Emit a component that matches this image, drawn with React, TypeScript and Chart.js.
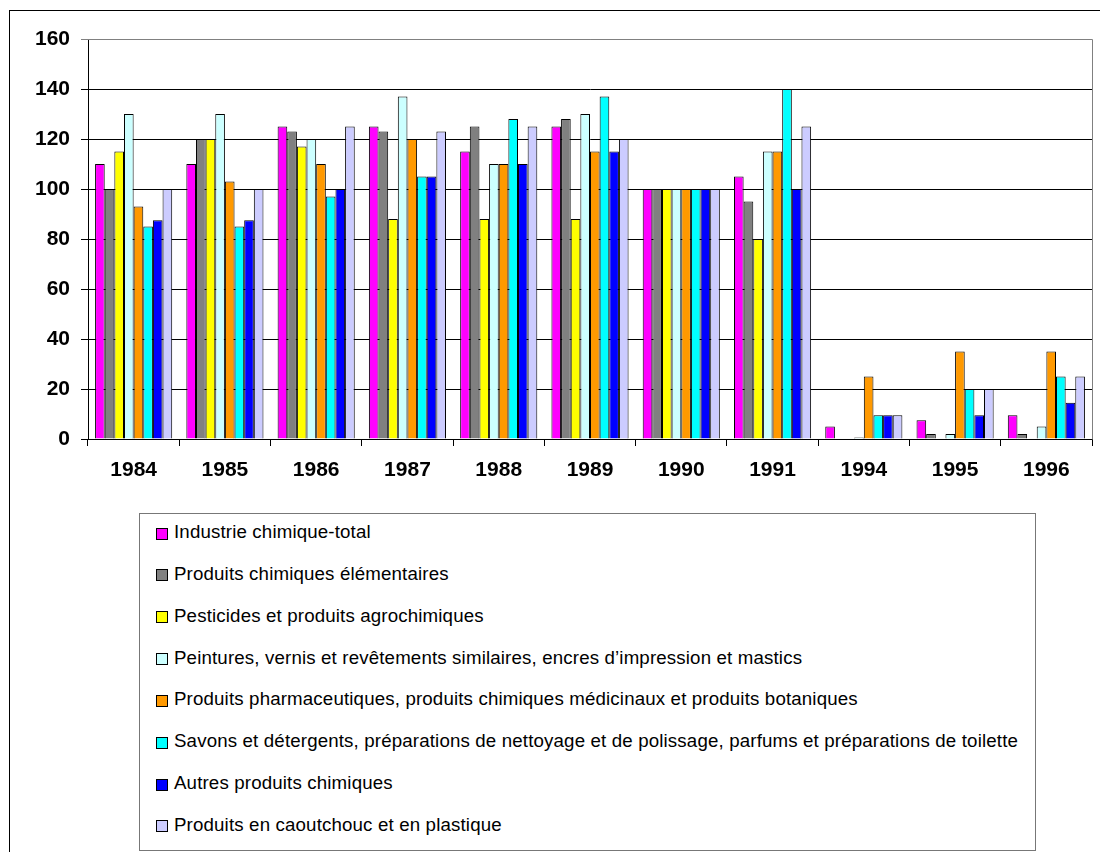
import React, { useEffect, useRef } from 'react';
import { Chart, registerables } from 'chart.js';

Chart.register(...registerables);

const categories = ['1984', '1985', '1986', '1987', '1988', '1989', '1990', '1991', '1994', '1995', '1996'];

const seriesNames = [
  'Industrie chimique-total',
  'Produits chimiques élémentaires',
  'Pesticides et produits agrochimiques',
  'Peintures, vernis et revêtements similaires, encres d’impression et mastics',
  'Produits pharmaceutiques, produits chimiques médicinaux et produits botaniques',
  'Savons et détergents, préparations de nettoyage et de polissage, parfums et préparations de toilette',
  'Autres produits chimiques',
  'Produits en caoutchouc et en plastique',
];

const seriesColors = ['#FF00FF', '#808080', '#FFFF00', '#CCFFFF', '#FF9900', '#00FFFF', '#0000FF', '#CCCCFF'];

const industrieTotal = [110, 110, 125, 125, 115, 125, 100, 105, 5, 7.5, 9.5];
const elementaires = [100, 120, 123, 123, 125, 128, 100, 95, null, 2, 2];
const pesticides = [115, 120, 117, 88, 88, 88, 100, 80, null, null, null];
const peintures = [130, 130, 120, 137, 110, 130, 100, 115, 0.6, 2, 5];
const pharmaceutiques = [93, 103, 110, 120, 110, 115, 100, 115, 25, 35, 35];
const savons = [85, 85, 97, 105, 128, 137, 100, 140, 9.5, 20, 25];
const autres = [87.5, 87.5, 100, 105, 110, 115, 100, 100, 9.5, 9.5, 14.5];
const caoutchouc = [100, 100, 125, 123, 125, 120, 100, 125, 9.5, 20, 25];

const seriesValues = [industrieTotal, elementaires, pesticides, peintures, pharmaceutiques, savons, autres, caoutchouc];

const yMin = 0;
const yMax = 160;
const yStep = 20;

const FONT = '"Liberation Sans", Arial, Helvetica, sans-serif';

const plotBorder = {
  id: 'plotBorder',
  afterDatasetsDraw(chart: any) {
    const { ctx, chartArea } = chart;
    ctx.save();
    ctx.strokeStyle = '#808080';
    ctx.lineWidth = 1;
    ctx.beginPath();
    const t = Math.round(chartArea.top) + 0.5;
    const r = Math.round(chartArea.right) + 0.5;
    ctx.moveTo(Math.round(chartArea.left), t);
    ctx.lineTo(r, t);
    ctx.lineTo(r, Math.round(chartArea.bottom) + 0.5);
    ctx.stroke();
    ctx.restore();
  },
};

export default function App() {
  const canvasRef = useRef<HTMLCanvasElement | null>(null);

  useEffect(() => {
    if (!canvasRef.current) return;
    const chart = new Chart(canvasRef.current, {
      type: 'bar',
      data: {
        labels: categories,
        datasets: seriesNames.map((name, i) => ({
          label: name,
          data: seriesValues[i],
          backgroundColor: seriesColors[i],
          borderColor: '#000000',
          borderWidth: 1,
          categoryPercentage: 0.845,
          barPercentage: 1.0,
        })),
      },
      options: {
        responsive: false,
        animation: false,
        layout: { padding: { top: 39, right: 8, bottom: 0, left: 0 } },
        plugins: {
          legend: { display: false },
          tooltip: { enabled: false },
          title: { display: false },
        },
        scales: {
          x: {
            afterFit: (scale: any) => {
              scale.height = 61;
            },
            grid: {
              display: true,
              drawOnChartArea: false,
              drawTicks: true,
              tickLength: 7,
              color: '#000000',
              offset: true,
            },
            border: { display: true, color: '#000000', width: 1 },
            ticks: {
              color: '#000000',
              padding: 12,
              maxRotation: 0,
              font: { family: FONT, size: 21, weight: 'bold' },
            },
          },
          y: {
            min: yMin,
            max: yMax,
            afterFit: (scale: any) => {
              scale.width = 88;
            },
            grid: {
              color: (ctx: any) => (ctx.tick && ctx.tick.value === yMax ? '#808080' : '#000000'),
              lineWidth: 1,
              tickLength: 7,
              drawTicks: true,
            },
            border: { display: true, color: '#000000', width: 1 },
            ticks: {
              stepSize: yStep,
              color: '#000000',
              padding: 11,
              font: { family: FONT, size: 21, weight: 'bold' },
            },
          },
        },
      },
      plugins: [plotBorder],
    });
    return () => chart.destroy();
  }, []);

  const rowGap = 41.85;

  return (
    <div style={{ position: 'absolute', left: 0, top: 0, width: 1100, height: 852, overflow: 'hidden', background: '#fff' }}>
      <div
        style={{
          position: 'absolute',
          left: 9,
          top: 10,
          width: 1200,
          height: 1000,
          borderLeft: '1px solid #000',
          borderTop: '1px solid #000',
        }}
      />
      <canvas
        ref={canvasRef}
        width={1100}
        height={500}
        style={{ position: 'absolute', left: 0, top: 0, width: 1100, height: 500, display: 'block' }}
      />
      <div
        style={{
          position: 'absolute',
          left: 139,
          top: 513,
          width: 895,
          height: 336,
          border: '1px solid #777',
          background: '#fff',
          fontFamily: FONT,
          fontSize: 18.7,
          letterSpacing: 0.15,
          color: '#000',
        }}
      >
        {seriesNames.map((name, i) => (
          <div
            key={name}
            style={{
              position: 'absolute',
              left: 16,
              top: 18 + i * rowGap - 11,
              height: 22,
              display: 'flex',
              alignItems: 'center',
              whiteSpace: 'nowrap',
            }}
          >
            <span
              style={{
                display: 'inline-block',
                width: 10,
                height: 10,
                border: '1px solid #000',
                background: seriesColors[i],
                marginRight: 6,
                marginTop: 3,
              }}
            />
            <span>{name}</span>
          </div>
        ))}
      </div>
    </div>
  );
}
